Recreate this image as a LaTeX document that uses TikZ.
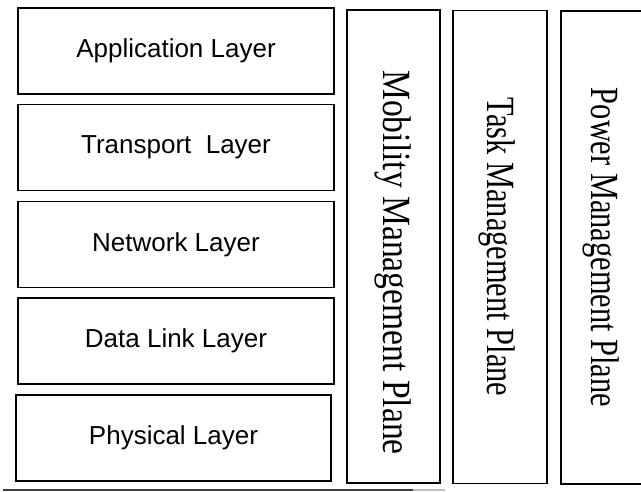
\documentclass[tikz,border=0pt]{standalone}
\usepackage{graphicx}
\usepackage{fontspec}
\setmainfont{Liberation Serif}
\setsansfont{Liberation Sans}
\begin{document}
\begin{tikzpicture}[x=1pt,y=-1pt,
  layer/.style={draw, line width=1.6pt, minimum width=316pt, minimum height=86pt,
    inner sep=0pt, font=\sffamily\fontsize{26}{30}\selectfont},
  plane/.style={draw, line width=1.6pt, minimum height=473pt, inner sep=0pt},
  ptext/.style={rotate=-90, inner sep=0pt, font=\rmfamily\fontsize{40}{44}\selectfont}]
  \clip (0,0) rectangle (641,492);

  % protocol stack
  \node[layer] (app)   at (176,51)    {Application Layer};
  \node[layer] (trans) at (176,147.5) {Transport~ Layer};
  \node[layer] (net)   at (176,244.5) {Network Layer};
  \node[layer] (dlink) at (176,341)   {Data Link Layer};
  \node[layer, minimum width=315pt] (phys) at (173.5,438) {Physical Layer};

  % management planes
  \node[plane, minimum width=93pt] (mob)   at (393.5,246.5) {};
  \node[plane, minimum width=94pt] (task)  at (500,247)     {};
  \node[plane, minimum width=81pt] (power) at (601.5,247.5) {};
  \node[ptext] at ([yshift=-16pt]mob.center) {\scalebox{0.84}[1]{Mobility Management Plane}};
  \node[ptext] at ([xshift=-3pt]task.center) {\scalebox{0.76}[1]{Task Management Plane}};
  \node[ptext] at (power.center) {\scalebox{0.76}[1]{Power Management Plane}};

  % base line
  \coordinate (b0) at (3,490);
  \coordinate (b1) at (413,490);
  \coordinate (b2) at (445,490);
  \draw[line width=2.2pt, black!75] (b0) -- (b1);
  \draw[line width=1.5pt, black!25] (b1) -- (b2);
\end{tikzpicture}
\end{document}
